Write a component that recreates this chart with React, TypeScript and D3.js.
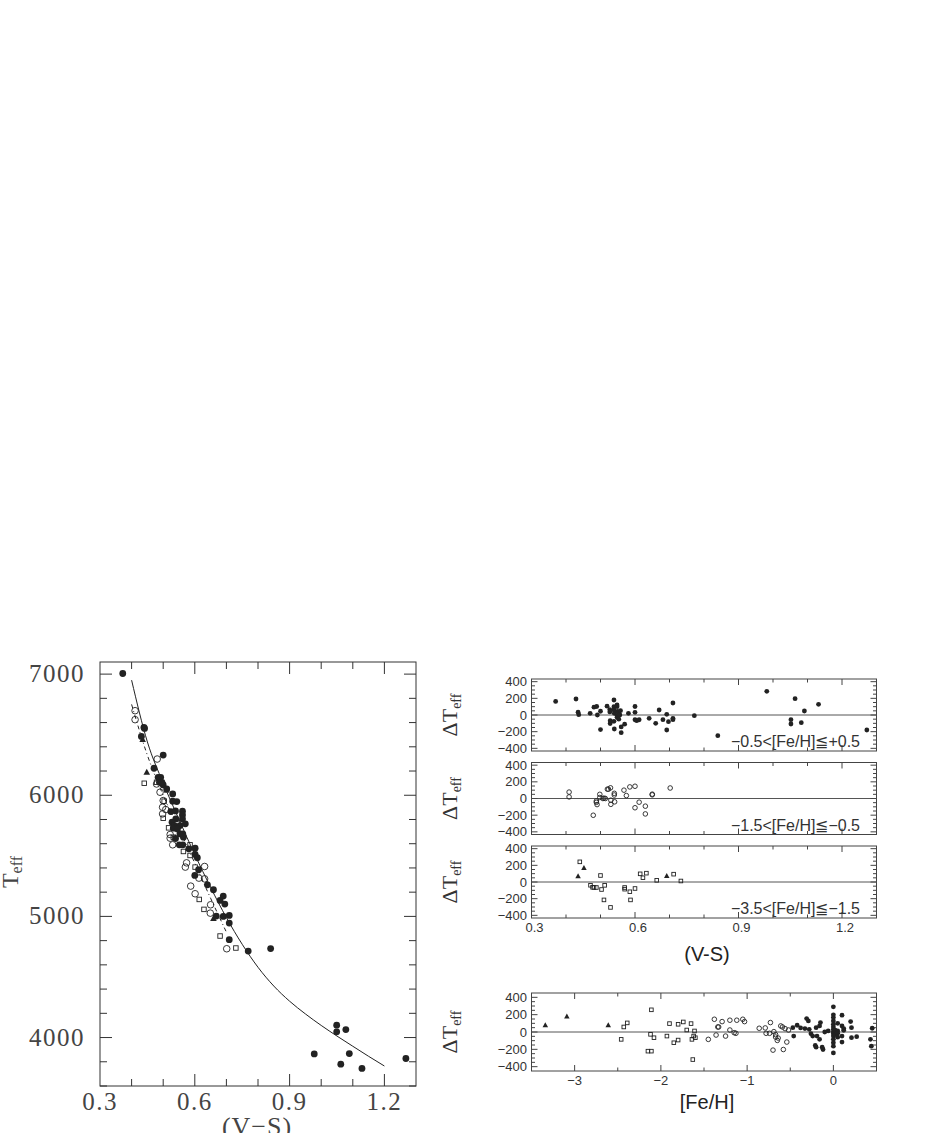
import React from 'react';
import * as d3 from 'd3';

// ---------- Left panel: Teff vs (V-S) ----------
const solarVS = [0.372,0.439,0.441,0.431,0.471,0.500,0.484,0.492,0.488,0.500,0.496,0.530,0.530,0.543,0.524,0.539,0.561,0.561,0.561,0.540,0.528,0.535,0.553,0.570,0.532,0.539,0.553,0.562,0.551,0.562,0.581,0.601,0.601,0.608,0.612,0.600,0.640,0.659,0.690,0.680,0.695,0.668,0.690,0.709,0.709,0.709,0.769,0.840,1.049,1.049,1.078,0.978,1.089,1.062,1.129,1.268,0.511,0.545,0.564];
const solarTeff = [7005,6560,6552,6486,6223,6332,6148,6148,6107,6085,6107,6011,5951,5948,5865,5871,5868,5838,5805,5805,5777,5750,5750,5764,5728,5643,5681,5681,5591,5591,5558,5563,5511,5484,5385,5338,5261,5220,5168,5132,5102,5003,5000,5008,4945,4808,4714,4734,4102,4047,4066,3865,3868,3780,3745,3827,6052,5722,5654];

const midVS = [0.411,0.411,0.481,0.490,0.500,0.498,0.498,0.508,0.522,0.522,0.530,0.570,0.574,0.631,0.631,0.587,0.601,0.613,0.650,0.649,0.701,0.543,0.479];
const midTeff = [6698,6624,6299,6025,5956,5901,5846,5882,5676,5646,5591,5407,5442,5412,5310,5250,5187,5316,5096,5027,4733,5764,6093];

const poorVS = [0.440,0.511,0.503,0.500,0.517,0.532,0.585,0.585,0.601,0.614,0.629,0.680,0.730,0.479,0.564];
const poorTeff = [6099,6044,5951,5810,5731,5654,5591,5503,5407,5140,5058,4838,4739,6107,5536];

const xpoorVS = [0.435,0.448,0.659];
const xpoorTeff = [6459,6190,4981];

const fitVS = [0.40,0.45,0.50,0.55,0.60,0.65,0.70,0.75,0.80,0.85,0.90,0.95,1.00,1.05,1.10,1.15,1.20];
const fitTeff = [6950,6440,6100,5800,5510,5240,4990,4770,4580,4425,4300,4195,4100,4012,3928,3845,3765];

const fitPoorVS = [0.40,0.45,0.50,0.55,0.60,0.65,0.70];
const fitPoorTeff = [6750,6330,6000,5720,5440,5150,4870];

const vsTicks = [0.3,0.6,0.9,1.2];
const teffTicks = [4000,5000,6000,7000];

// ---------- Right residual panels ----------
const res1VS = [0.370,0.429,0.435,0.437,0.470,0.481,0.489,0.491,0.500,0.500,0.519,0.527,0.527,0.528,0.528,0.539,0.539,0.539,0.540,0.539,0.540,0.548,0.548,0.549,0.548,0.548,0.553,0.553,0.556,0.558,0.560,0.560,0.570,0.581,0.600,0.600,0.600,0.605,0.612,0.641,0.660,0.670,0.681,0.692,0.692,0.697,0.710,0.710,0.710,0.772,0.840,0.982,1.052,1.052,1.064,1.082,1.091,1.132,1.272];
const res1dT = [163,192,33,4,20,94,102,0,45,-175,106,65,37,-69,-102,180,100,60,20,-76,-168,120,100,44,-8,-28,20,-50,0,52,-143,-212,-110,20,102,32,-57,-68,-57,-40,-100,60,-56,8,-180,-80,144,-40,-56,-8,-248,284,-56,-108,196,-92,48,128,-180];

const res2VS = [0.409,0.409,0.479,0.488,0.488,0.490,0.498,0.498,0.507,0.510,0.514,0.520,0.523,0.529,0.530,0.530,0.540,0.540,0.541,0.568,0.575,0.585,0.600,0.600,0.612,0.630,0.630,0.650,0.650,0.702];
const res2dT = [77,19,-201,-30,-46,-73,50,12,0,4,0,112,112,128,-20,-70,62,42,-40,100,35,139,147,-111,-44,-92,-185,52,44,126];

const res3SqVS = [0.440,0.471,0.477,0.481,0.488,0.500,0.503,0.510,0.512,0.529,0.570,0.570,0.585,0.587,0.600,0.615,0.633,0.623,0.663,0.712,0.733];
const res3SqdT = [242,-39,-63,-66,-66,78,-90,-215,-40,-305,-66,-86,-117,-215,-78,98,106,51,20,94,12];
const res3TriVS = [0.435,0.452,0.692];
const res3TridT = [70,168,71];

const dtTicks = [-400,-200,0,200,400];
const panelLabels = ['\u22120.5<[Fe/H]\u2266+0.5', '\u22121.5<[Fe/H]\u2266\u22120.5', '\u22123.5<[Fe/H]\u2266\u22121.5'];

// ---------- Bottom panel: residual vs [Fe/H] ----------
const feTri = [-3.34,-3.09,-2.61];
const feTridT = [78,178,78];
const feSq = [-2.46,-2.43,-2.39,-2.15,-2.11,-2.11,-2.12,-2.08,-1.93,-1.85,-1.90,-1.80,-1.80,-1.74,-1.70,-1.64,-1.65,-1.63,-1.62,-1.60,-1.61];
const feSqdT = [-85,58,105,-221,-221,256,-27,-66,-47,-124,97,-93,89,116,23,-85,97,-318,-47,-66,12];
const feOpen = [-1.45,-1.38,-1.36,-1.34,-1.33,-1.29,-1.25,-1.20,-1.20,-1.15,-1.13,-1.12,-1.05,-1.03,-0.86,-0.79,-0.78,-0.74,-0.73,-0.69,-0.70,-0.67,-0.67,-0.65,-0.64,-0.61,-0.59,-0.58,-0.56,-0.54,-0.52];
const feOpendT = [-85,147,-35,58,58,120,-47,136,23,-8,-15,136,147,120,43,47,-15,-15,109,4,-209,-31,-58,-97,-70,70,58,-202,39,-116,23];
const feFill = [-0.47,-0.46,-0.42,-0.38,-0.33,-0.31,-0.29,-0.28,-0.26,-0.24,-0.21,-0.20,-0.20,-0.19,-0.16,-0.16,-0.15,-0.13,-0.12,-0.10,-0.06,0,0,0,0,0,0,0,0,0,0,0,0,0,0,0.02,0.02,0.05,0.05,0.05,0.05,0.10,0.10,0.10,0.10,0.12,0.12,0.20,0.21,0.21,0.27,0.43,0.44,0.45];
const feFilldT = [50,-47,78,47,39,155,128,31,-19,-47,-155,-175,50,-47,-85,70,109,-175,-202,0,12,291,198,167,128,89,58,31,0,-19,-47,-85,-124,-163,-241,-30,20,12,-15,-60,100,194,70,-47,-116,20,40,120,50,-66,-54,-85,-163,43];
const feTicks = [-3,-2,-1,0];

// ---------- geometry ----------
const L = { x0: 100, x1: 416, y0: 662, y1: 1086 };
const R = { x0: 531.5, x1: 876.5 };
const resTops = [679, 762.5, 846];
const resH = 72;
const B = { y0: 993, y1: 1071 };

const serif = '"Liberation Serif", "DejaVu Serif", serif';
const sans = '"Liberation Sans", Arial, sans-serif';
const INK = '#222';

const FilledC = ({ x, y, r }: any) => <circle cx={x} cy={y} r={r} fill={INK} />;
const OpenC = ({ x, y, r }: any) => <circle cx={x} cy={y} r={r} fill="none" stroke={INK} strokeWidth={0.9} />;
const OpenS = ({ x, y, s }: any) => <rect x={x - s / 2} y={y - s / 2} width={s} height={s} fill="none" stroke={INK} strokeWidth={0.9} />;
const Tri = ({ x, y, s }: any) => (
  <path d={`M${x},${y - s * 0.6}L${x + s * 0.55},${y + s * 0.4}L${x - s * 0.55},${y + s * 0.4}Z`} fill={INK} />
);

function LeftPanel() {
  const x = d3.scaleLinear().domain([0.3, 1.3]).range([L.x0, L.x1]);
  const y = d3.scaleLinear().domain([3600, 7100]).range([L.y1, L.y0]);
  const line = d3.line<number>().x((_, i) => x(fitVS[i])).y((d) => y(d)).curve(d3.curveMonotoneX);
  const linePoor = d3.line<number>().x((_, i) => x(fitPoorVS[i])).y((d) => y(d)).curve(d3.curveMonotoneX);
  const xMinor = d3.range(0.4, 1.3, 0.1);
  const yMinor = d3.range(3600, 7100, 200);
  return (
    <g>
      <rect x={L.x0} y={L.y0} width={L.x1 - L.x0} height={L.y1 - L.y0} fill="none" stroke="#333" strokeWidth={1} />
      {xMinor.map((v, i) => {
        const major = vsTicks.some((t) => Math.abs(t - v) < 1e-6);
        const len = major ? 12 : 7;
        return (
          <g key={'xt' + i} stroke="#333">
            <line x1={x(v)} x2={x(v)} y1={L.y1} y2={L.y1 - len} />
            <line x1={x(v)} x2={x(v)} y1={L.y0} y2={L.y0 + len} />
          </g>
        );
      })}
      {yMinor.map((v, i) => {
        const major = v % 1000 === 0;
        const len = major ? 12 : 7;
        return (
          <g key={'yt' + i} stroke="#333">
            <line x1={L.x0} x2={L.x0 + len} y1={y(v)} y2={y(v)} />
            <line x1={L.x1} x2={L.x1 - len} y1={y(v)} y2={y(v)} />
          </g>
        );
      })}
      {vsTicks.map((v) => (
        <text key={'xl' + v} x={x(v)} y={1110} textAnchor="middle" fontFamily={serif} fontSize={25} letterSpacing={1.5} fill="#444">
          {v.toFixed(1)}
        </text>
      ))}
      {teffTicks.map((v) => (
        <text key={'yl' + v} x={85} y={y(v) + 8} textAnchor="end" fontFamily={serif} fontSize={25} letterSpacing={1.5} fill="#444">
          {v}
        </text>
      ))}
      <text x={257} y={1135} textAnchor="middle" fontFamily={serif} fontSize={26} letterSpacing={1} fill="#444">
        (V{'\u2212'}S)
      </text>
      <text transform={`translate(18,${872}) rotate(-90)`} textAnchor="middle" fontFamily={serif} fontSize={24} fill="#444">
        T<tspan fontSize={16} dy={4}>eff</tspan>
      </text>
      <path d={line(fitTeff) || ''} fill="none" stroke={INK} strokeWidth={1} />
      <path d={linePoor(fitPoorTeff) || ''} fill="none" stroke={INK} strokeWidth={1} strokeDasharray="4,3,1,3" />
      {midVS.map((v, i) => <OpenC key={'m' + i} x={x(v)} y={y(midTeff[i])} r={3.3} />)}
      {poorVS.map((v, i) => <OpenS key={'p' + i} x={x(v)} y={y(poorTeff[i])} s={4.5} />)}
      {xpoorVS.map((v, i) => <Tri key={'t' + i} x={x(v)} y={y(xpoorTeff[i])} s={6} />)}
      {solarVS.map((v, i) => <FilledC key={'s' + i} x={x(v)} y={y(solarTeff[i])} r={3.4} />)}
    </g>
  );
}

function ResFrame({ top, h, dom, x, xTicksMinor, xMajor, children, label }: any) {
  const y = d3.scaleLinear().domain([-dom, dom]).range([top + h, top]);
  const yMinor = d3.range(-400, 401, 50);
  return (
    <g>
      <rect x={R.x0} y={top} width={R.x1 - R.x0} height={h} fill="none" stroke="#444" strokeWidth={1} />
      <line x1={R.x0} x2={R.x1} y1={y(0)} y2={y(0)} stroke="#555" strokeWidth={1} />
      {xTicksMinor.map((v: number, i: number) => {
        const major = xMajor.some((t: number) => Math.abs(t - v) < 1e-6);
        const len = major ? 6 : 3.5;
        return (
          <g key={'xt' + i} stroke="#444">
            <line x1={x(v)} x2={x(v)} y1={top + h} y2={top + h - len} />
            <line x1={x(v)} x2={x(v)} y1={top} y2={top + len} />
          </g>
        );
      })}
      {yMinor.map((v: number, i: number) => {
        const major = v % 200 === 0;
        const len = major ? 6 : 3.5;
        return (
          <g key={'yt' + i} stroke="#444">
            <line x1={R.x0} x2={R.x0 + len} y1={y(v)} y2={y(v)} />
            <line x1={R.x1} x2={R.x1 - len} y1={y(v)} y2={y(v)} />
          </g>
        );
      })}
      {dtTicks.map((v) => (
        <text key={'yl' + v} x={527} y={y(v) + 4.5} textAnchor="end" fontFamily={sans} fontSize={13} fill="#333">
          {v < 0 ? '\u2212' + Math.abs(v) : v}
        </text>
      ))}
      <text transform={`translate(457,${top + h / 2}) rotate(-90)`} textAnchor="middle" fontFamily={serif} fontSize={22} fill="#333">
        {'\u0394'}T<tspan fontSize={14} dy={4}>eff</tspan>
      </text>
      {label && (
        <text x={860} y={top + h - 4} textAnchor="end" fontFamily={sans} fontSize={16} fill="#333">
          {label}
        </text>
      )}
      {children(y)}
    </g>
  );
}

function RightPanels() {
  const x = d3.scaleLinear().domain([0.3, 1.3]).range([R.x0, R.x1]);
  const xMinor = d3.range(0.4, 1.3, 0.1);
  const dom = 432;
  return (
    <g>
      <ResFrame top={resTops[0]} h={resH} dom={dom} x={x} xTicksMinor={xMinor} xMajor={vsTicks} label={panelLabels[0]}>
        {(y: any) => res1VS.map((v, i) => <FilledC key={'a' + i} x={x(v)} y={y(res1dT[i])} r={2.4} />)}
      </ResFrame>
      <ResFrame top={resTops[1]} h={resH} dom={dom} x={x} xTicksMinor={xMinor} xMajor={vsTicks} label={panelLabels[1]}>
        {(y: any) => res2VS.map((v, i) => <OpenC key={'b' + i} x={x(v)} y={y(res2dT[i])} r={2.3} />)}
      </ResFrame>
      <ResFrame top={resTops[2]} h={resH} dom={dom} x={x} xTicksMinor={xMinor} xMajor={vsTicks} label={panelLabels[2]}>
        {(y: any) => (
          <g>
            {res3SqVS.map((v, i) => <OpenS key={'c' + i} x={x(v)} y={y(res3SqdT[i])} s={3.6} />)}
            {res3TriVS.map((v, i) => <Tri key={'d' + i} x={x(v)} y={y(res3TridT[i])} s={5} />)}
          </g>
        )}
      </ResFrame>
      {vsTicks.map((v) => (
        <text key={'vx' + v} x={x(v) + 3} y={932} textAnchor="middle" fontFamily={sans} fontSize={13} fill="#333">
          {v.toFixed(1)}
        </text>
      ))}
      <text x={707} y={961} textAnchor="middle" fontFamily={sans} fontSize={20} fill="#222">
        (V-S)
      </text>
    </g>
  );
}

function BottomPanel() {
  const x = d3.scaleLinear().domain([-3.5, 0.5]).range([R.x0, R.x1]);
  const xMinor = d3.range(-3, 0.5, 0.5);
  const dom = 450;
  return (
    <g>
      <ResFrame top={B.y0} h={B.y1 - B.y0} dom={dom} x={x} xTicksMinor={xMinor} xMajor={feTicks} label={null}>
        {(y: any) => (
          <g>
            {feTri.map((v, i) => <Tri key={'e' + i} x={x(v)} y={y(feTridT[i])} s={5} />)}
            {feSq.map((v, i) => <OpenS key={'f' + i} x={x(v)} y={y(feSqdT[i])} s={3.6} />)}
            {feOpen.map((v, i) => <OpenC key={'g' + i} x={x(v)} y={y(feOpendT[i])} r={2.3} />)}
            {feFill.map((v, i) => <FilledC key={'h' + i} x={x(v)} y={y(feFilldT[i])} r={2.4} />)}
          </g>
        )}
      </ResFrame>
      {feTicks.map((v) => (
        <text key={'fx' + v} x={x(v)} y={1085} textAnchor="middle" fontFamily={sans} fontSize={13} fill="#333">
          {v < 0 ? '\u2212' + Math.abs(v) : v}
        </text>
      ))}
      <text x={707} y={1109} textAnchor="middle" fontFamily={sans} fontSize={20} fill="#222">
        [Fe/H]
      </text>
    </g>
  );
}

export default function App() {
  return (
    <svg width={926} height={1133} style={{ position: 'absolute', left: 0, top: 0, background: '#fff' }}>
      <rect x={0} y={0} width={926} height={1133} fill="#fff" />
      <LeftPanel />
      <RightPanels />
      <BottomPanel />
    </svg>
  );
}
